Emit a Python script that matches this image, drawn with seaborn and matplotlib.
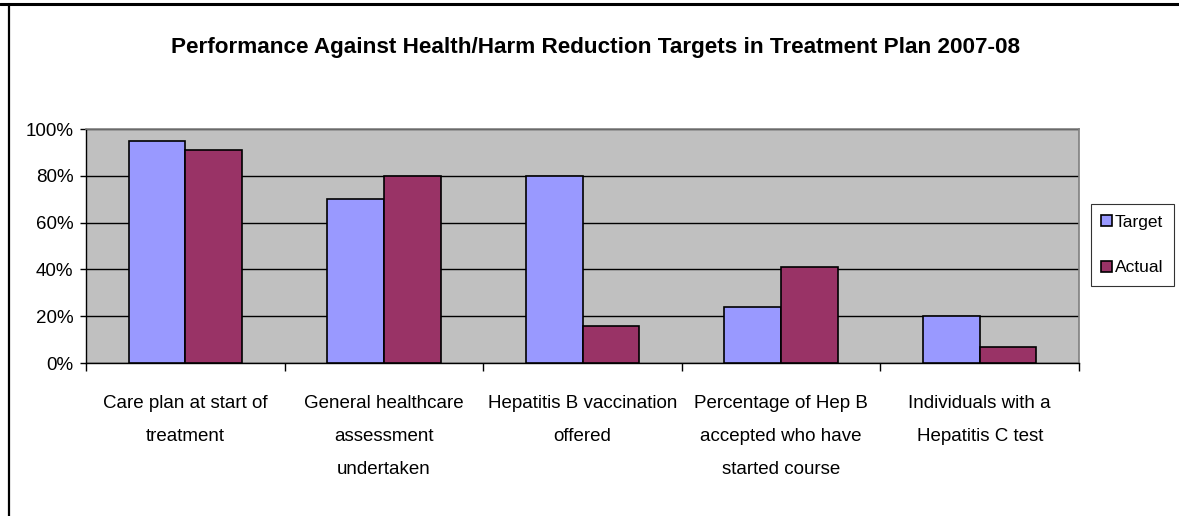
import matplotlib
matplotlib.use("Agg")
import matplotlib.pyplot as plt
from matplotlib.lines import Line2D
from matplotlib.ticker import FixedLocator, PercentFormatter
import seaborn as sns
import pandas as pd

categories = [
    "Care plan at start of\ntreatment",
    "General healthcare\nassessment\nundertaken",
    "Hepatitis B vaccination\noffered",
    "Percentage of Hep B\naccepted who have\nstarted course",
    "Individuals with a\nHepatitis C test",
]
target = [95, 70, 80, 24, 20]
actual = [91, 80, 16, 41, 7]
series_names = ["Target", "Actual"]
yticks = [0, 20, 40, 60, 80, 100]

df = pd.DataFrame({
    "category": categories * 2,
    "series": [series_names[0]] * len(categories) + [series_names[1]] * len(categories),
    "value": target + actual,
})

sns.set_style("white")
plt.rcParams["font.family"] = ["Liberation Sans Narrow", "Liberation Sans", "DejaVu Sans"]
plt.rcParams["text.color"] = "black"
plt.rcParams["xtick.color"] = "black"
plt.rcParams["ytick.color"] = "black"

fig = plt.figure(figsize=(11.79, 5.16), dpi=100)
ax = fig.add_axes([86 / 1179, 1 - 363 / 516, (1079 - 86) / 1179, (363 - 129) / 516])

palette = {"Target": "#9999FF", "Actual": "#993366"}
sns.barplot(data=df, x="category", y="value", hue="series", palette=palette,
            width=0.57, edgecolor="black", linewidth=1.2, saturation=1,
            ax=ax, zorder=3)

ax.set_facecolor("#C0C0C0")
ax.set_ylim(0, 100)
ax.set_xlim(-0.5, len(categories) - 0.5)
ax.yaxis.set_major_locator(FixedLocator(yticks))
ax.yaxis.set_major_formatter(PercentFormatter(decimals=0))
ax.grid(axis="y", color="#000000", linewidth=1.0, zorder=1)
ax.set_axisbelow(True)
ax.set_xlabel("")
ax.set_ylabel("")

for side in ["top", "right"]:
    ax.spines[side].set_color("#808080")
    ax.spines[side].set_linewidth(1.2)
for side in ["left", "bottom"]:
    ax.spines[side].set_color("#000000")
    ax.spines[side].set_linewidth(1.0)

ax.tick_params(axis="x", which="major", length=0, pad=23, labelsize=13.5, labelcolor="black")
ax.set_xticks([i - 0.5 for i in range(len(categories) + 1)], minor=True)
ax.tick_params(axis="x", which="minor", length=6, width=1, color="#000000", direction="out", bottom=True)
ax.tick_params(axis="y", length=4, width=1, color="#000000", direction="out", left=True,
               labelsize=13.5, pad=5, labelcolor="black")
for lbl in ax.get_xticklabels():
    lbl.set_linespacing(2.25)
    lbl.set_verticalalignment("top")

handles, labels = ax.get_legend_handles_labels()
leg = ax.legend(handles, labels, loc="center right", bbox_to_anchor=(1174 / 1179, 1 - 245 / 516),
                bbox_transform=fig.transFigure, frameon=True, fancybox=False, fontsize=12.5,
                handlelength=0.6, handleheight=0.6, handletextpad=0.2, labelspacing=1.75,
                borderpad=0.6, borderaxespad=0)
leg.get_frame().set_edgecolor("#000000")
leg.get_frame().set_linewidth(0.8)

fig.text(596 / 1179, 1 - 48 / 516,
         "Performance Against Health/Harm Reduction Targets in Treatment Plan 2007-08",
         ha="center", va="center", fontsize=16.2, fontweight="bold", color="black")

# chart frame: top and left edges
fig.add_artist(Line2D([0, 1], [1 - 4 / 516, 1 - 4 / 516], color="black", linewidth=2.2,
                      transform=fig.transFigure))
fig.add_artist(Line2D([8.5 / 1179, 8.5 / 1179], [0, 1 - 4 / 516], color="black", linewidth=1.6,
                      transform=fig.transFigure))

fig.savefig("out.png", dpi=100, facecolor="white")
